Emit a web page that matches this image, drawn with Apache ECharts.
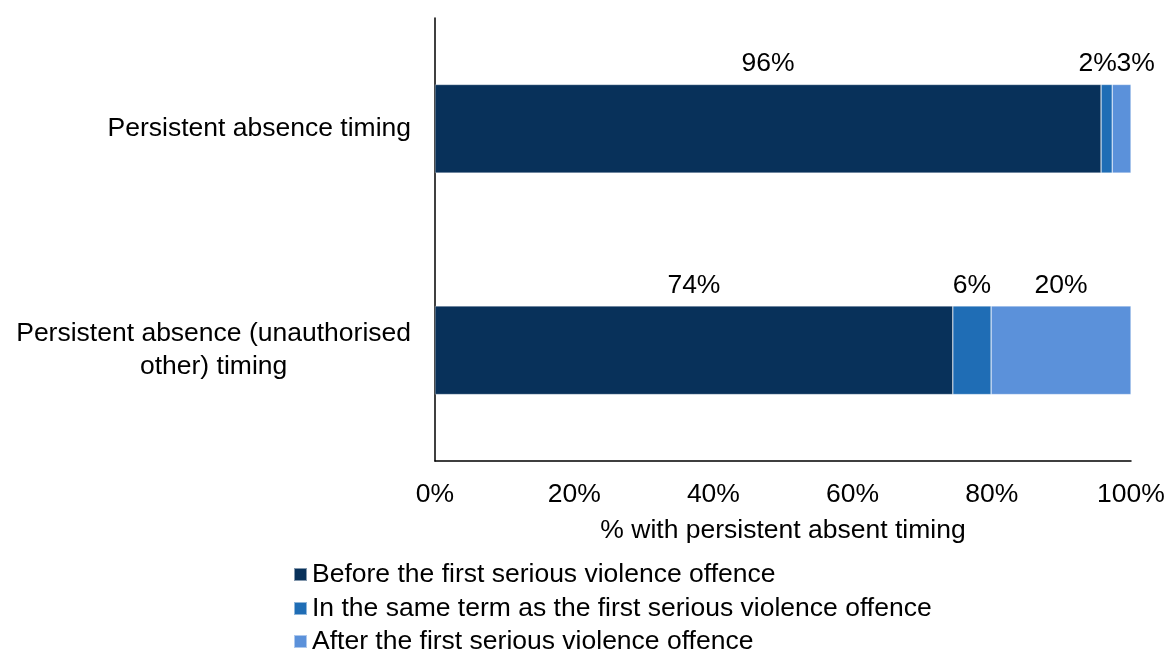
<!DOCTYPE html>
<html><head><meta charset="utf-8">
<script src="https://cdn.jsdelivr.net/npm/echarts@6/dist/echarts.min.js"></script>
<style>html,body{margin:0;padding:0;background:#fff}#c{width:1168px;height:650px}</style>
</head><body><div id="c"></div>
<script>
const categories = ['Persistent absence timing', 'Persistent absence (unauthorised\nother) timing'];
const seriesNames = ['Before the first serious violence offence', 'In the same term as the first serious violence offence', 'After the first serious violence offence'];
const beforeVals = [95.7, 74.4];
const sameTermVals = [1.6, 5.5];
const afterVals = [2.7, 20.1];
const xTicks = [0, 20, 40, 60, 80, 100];

const colors = ['#08315A', '#1F6DB5', '#5B91DA'];
const FONT = 'Liberation Sans, Arial, sans-serif';
const FS = 26.5;
// label nudges to avoid overlap (style only)
const labelOffsets = {1: {0: [-9, 0]}, 2: {0: [14, 0]}};
const legendTops = [556, 590, 623];

const allVals = [beforeVals, sameTermVals, afterVals];
const series = allVals.map((vals, si) => ({
  name: seriesNames[si],
  type: 'bar',
  stack: 'total',
  barWidth: '40%',
  itemStyle: {color: colors[si], borderColor: 'rgba(255,255,255,0.5)', borderWidth: 0.6},
  label: {
    show: true, position: 'top', distance: 7,
    fontFamily: FONT, fontSize: FS, color: '#000',
    formatter: p => Math.round(p.value) + '%'
  },
  data: vals.map((v, i) => {
    const o = labelOffsets[si] && labelOffsets[si][i];
    return o ? {value: v, label: {offset: o}} : v;
  })
}));

const chart = echarts.init(document.getElementById('c'));
chart.setOption({
  animation: false,
  grid: {left: 435, right: 37, top: 18, bottom: 189},
  xAxis: {
    type: 'value', min: xTicks[0], max: xTicks[xTicks.length - 1], interval: 20,
    axisLine: {show: true, lineStyle: {color: '#000', width: 1.5}},
    axisTick: {show: false}, splitLine: {show: false},
    axisLabel: {formatter: '{value}%', fontFamily: FONT, fontSize: FS, color: '#000', margin: 20},
    name: '% with persistent absent timing', nameLocation: 'middle', nameGap: 56,
    nameTextStyle: {fontFamily: FONT, fontSize: FS, color: '#000'}
  },
  yAxis: {
    type: 'category', inverse: true, data: categories,
    axisLine: {show: true, lineStyle: {color: '#000', width: 1.5}},
    axisTick: {show: false},
    axisLabel: {
      margin: 24, align: 'right',
      formatter: v => v.split('\n').map(l => '{c|' + l + '}').join('\n'),
      rich: {c: {fontFamily: FONT, fontSize: FS, color: '#000', align: 'center', lineHeight: 33}}
    }
  },
  legend: seriesNames.map((n, i) => ({
    left: 288, top: legendTops[i],
    icon: 'rect', itemWidth: 13, itemHeight: 13, itemGap: 0,
    textStyle: {fontFamily: FONT, fontSize: FS, color: '#000', padding: [0, 0, 0, 0]},
    data: [n]
  })),
  series: series
});
</script>
</body></html>
